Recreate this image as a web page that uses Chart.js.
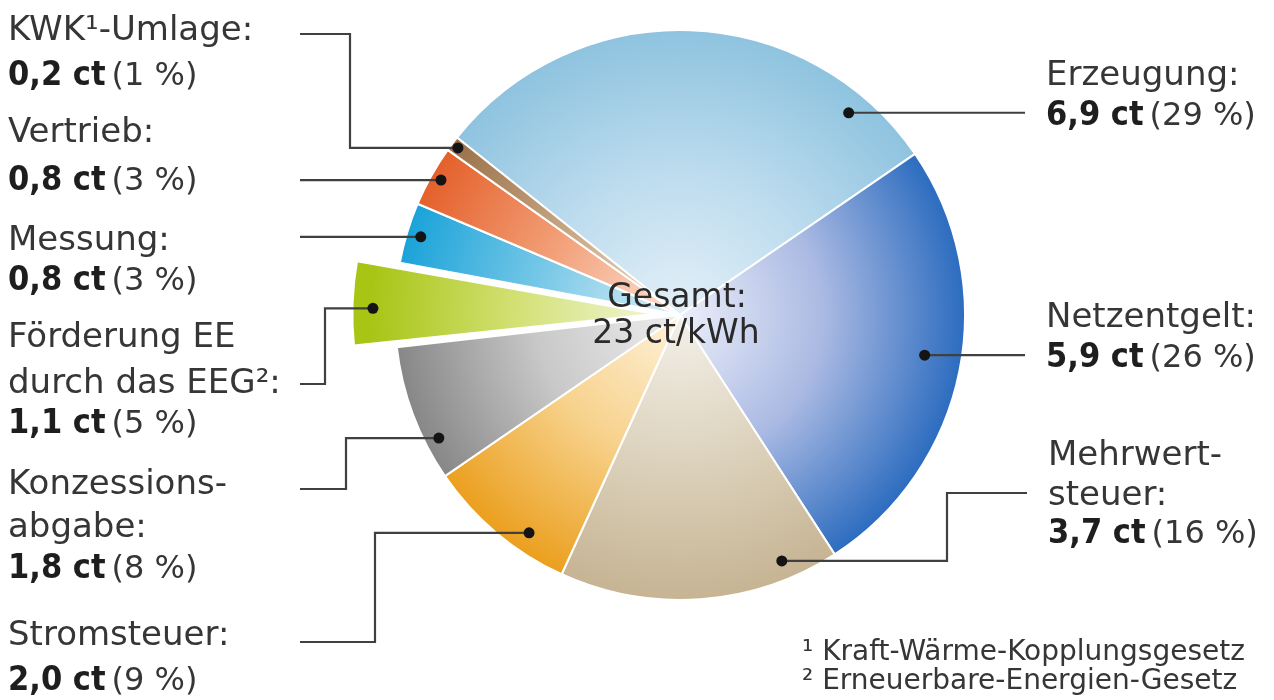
<!DOCTYPE html>
<html><head><meta charset="utf-8">
<script src="https://cdn.jsdelivr.net/npm/chart.js@4.4.1/dist/chart.umd.min.js"></script>
<style>html,body{margin:0;padding:0;background:#fff;}</style>
</head><body>
<canvas id="c" width="1274" height="700"></canvas>
<script>
// ---- data ----
const categories = ['Erzeugung', 'Netzentgelt', 'Mehrwertsteuer', 'Stromsteuer', 'Konzessionsabgabe', 'Förderung EE durch das EEG', 'Messung', 'Vertrieb', 'KWK-Umlage'];
const valuesCt = [6.9, 5.9, 3.7, 2.0, 1.8, 1.1, 0.8, 0.8, 0.2];
const percents = [29, 26, 16, 9, 8, 5, 3, 3, 1];
const labelTitles = [['Erzeugung:'], ['Netzentgelt:'], ['Mehrwert-', 'steuer:'], ['Stromsteuer:'], ['Konzessions-', 'abgabe:'], ['Förderung EE', 'durch das EEG²:'], ['Messung:'], ['Vertrieb:'], ['KWK¹-Umlage:']];
const totalLabel = ['Gesamt:', '23 ct/kWh'];
const footnotes = ['¹ Kraft-Wärme-Kopplungsgesetz', '² Erneuerbare-Energien-Gesetz'];
const explodedIndex = 5;

// ---- styles ----
const innerColors = ['#e4f0f8', '#eceffa', '#f4f1ea', '#fff2dc', '#eeeeee', '#f1f5d6', '#dff0f7', '#fde2d4', '#eee0d2'];
const midColors   = ['#bddcee', '#abbae3', '#ddd3be', '#f7d28c', '#c9c9c9', '#d2e072', '#78c8e7', '#f29f78', '#c6a682'];
const outerColors = ['#8ec3df', '#2c6cbf', '#c6b493', '#eb9f1e', '#878787', '#a8c516', '#1aa3d9', '#e4602a', '#9a7048'];
const PIE_RADIUS = 285;

// label layout: x, baselines (title lines..., value line)
const labelLayout = [
  {x: 1046, ys: [85, 125]},
  {x: 1046, ys: [327, 367]},
  {x: 1048, ys: [465, 505, 543]},
  {x: 8, ys: [645, 690]},
  {x: 8, ys: [494, 537, 578]},
  {x: 8, ys: [347, 393, 433]},
  {x: 8, ys: [250, 290]},
  {x: 8, ys: [142, 190]},
  {x: 8, ys: [40, 85]}
];
// leader: angle fraction within slice, radius fraction, then path steps
const leaderLayout = [
  {a: 0.853, r: 0.924, path: [['h', 1025]]},
  {a: 0.478, r: 0.87, path: [['h', 1025]]},
  {a: 0.181, r: 0.934, path: [['h', 947], ['v', 493], ['h', 1027]]},
  {a: 0.328, r: 0.93, path: [['h', 375], ['v', 642], ['h', 300]]},
  {a: 0.265, r: 0.95, path: [['h', 346], ['v', 489], ['h', 300]]},
  {a: 0.45, r: 0.99, path: [['h', 325], ['v', 384], ['h', 300]]},
  {a: 0.5, r: 0.95, path: [['h', 300]]},
  {a: 0.52, r: 0.963, path: [['h', 300]]},
  {a: 0.5, r: 0.975, path: [['h', 350], ['v', 34], ['h', 300]]}
];

const FONT = '"DejaVu Sans", sans-serif';
const FONT_BOLD = '"DejaVu Sans Condensed", "DejaVu Sans", sans-serif';

function fmtCt(v) { return v.toFixed(1).replace('.', ',') + ' ct'; }

const labelsPlugin = {
  id: 'labels',
  afterDraw(chart) {
    const ctx = chart.ctx;
    const meta = chart.getDatasetMeta(0);
    ctx.save();
    // leader lines + dots
    meta.data.forEach((arc, i) => {
      const L = leaderLayout[i];
      const off = (arc.options.offset || 0) / 4;
      const mid = (arc.startAngle + arc.endAngle) / 2;
      const cx = arc.x + Math.cos(mid) * off;
      const cy = arc.y + Math.sin(mid) * off;
      const ang = arc.startAngle + (arc.endAngle - arc.startAngle) * L.a;
      const px = cx + Math.cos(ang) * arc.outerRadius * L.r;
      const py = cy + Math.sin(ang) * arc.outerRadius * L.r;
      ctx.beginPath();
      ctx.moveTo(px, py);
      let x = px, y = py;
      L.path.forEach(([d, v]) => { if (d === 'h') x = v; else y = v; ctx.lineTo(x, y); });
      ctx.strokeStyle = '#404040';
      ctx.lineWidth = 2.2;
      ctx.lineJoin = 'miter';
      ctx.stroke();
      ctx.beginPath();
      ctx.arc(px, py, 5.5, 0, Math.PI * 2);
      ctx.fillStyle = '#141414';
      ctx.fill();
    });
    // labels
    ctx.textBaseline = 'alphabetic';
    ctx.textAlign = 'left';
    categories.forEach((c, i) => {
      const lay = labelLayout[i];
      const titles = labelTitles[i];
      ctx.fillStyle = '#363636';
      ctx.font = '34px ' + FONT;
      titles.forEach((t, k) => ctx.fillText(t, lay.x, lay.ys[k]));
      const vy = lay.ys[titles.length];
      ctx.font = 'bold 34px ' + FONT_BOLD;
      ctx.fillStyle = '#1e1e1e';
      const b = fmtCt(valuesCt[i]);
      ctx.fillText(b, lay.x, vy);
      const w = ctx.measureText(b).width;
      ctx.font = '32px ' + FONT;
      ctx.fillStyle = '#363636';
      ctx.fillText('(' + percents[i] + ' %)', lay.x + w + 6, vy);
    });
    // center total
    const a0 = meta.data[0];
    ctx.textAlign = 'center';
    ctx.font = '33px ' + FONT;
    ctx.fillStyle = '#2a2a2a';
    ctx.fillText(totalLabel[0], a0.x - 3, 307);
    ctx.fillText(totalLabel[1], a0.x - 4, 343);
    // footnotes
    ctx.textAlign = 'left';
    ctx.font = '28px ' + FONT;
    ctx.fillStyle = '#363636';
    ctx.fillText(footnotes[0], 802, 660);
    ctx.fillText(footnotes[1], 802, 689);
    ctx.restore();
  }
};

new Chart(document.getElementById('c'), {
  type: 'pie',
  data: {
    labels: categories,
    datasets: [{
      data: valuesCt,
      backgroundColor: (c) => {
        const chart = c.chart, i = c.dataIndex;
        const area = chart.chartArea;
        if (!area || i === undefined) return outerColors[i] || '#ccc';
        const cx = (area.left + area.right) / 2, cy = (area.top + area.bottom) / 2;
        const g = chart.ctx.createRadialGradient(cx, cy, 0, cx, cy, PIE_RADIUS);
        g.addColorStop(0, innerColors[i]);
        g.addColorStop(0.5, midColors[i]);
        g.addColorStop(1, outerColors[i]);
        return g;
      },
      borderColor: '#ffffff',
      borderWidth: 2,
      offset: valuesCt.map((v, i) => i === explodedIndex ? 100 : 0)
    }]
  },
  options: {
    responsive: false,
    animation: false,
    radius: PIE_RADIUS,
    rotation: -51.5,
    events: [],
    layout: {padding: {left: 100, right: 14, top: 0, bottom: 70}},
    plugins: {legend: {display: false}, tooltip: {enabled: false}, title: {display: false}}
  },
  plugins: [labelsPlugin]
});
</script>
</body></html>
